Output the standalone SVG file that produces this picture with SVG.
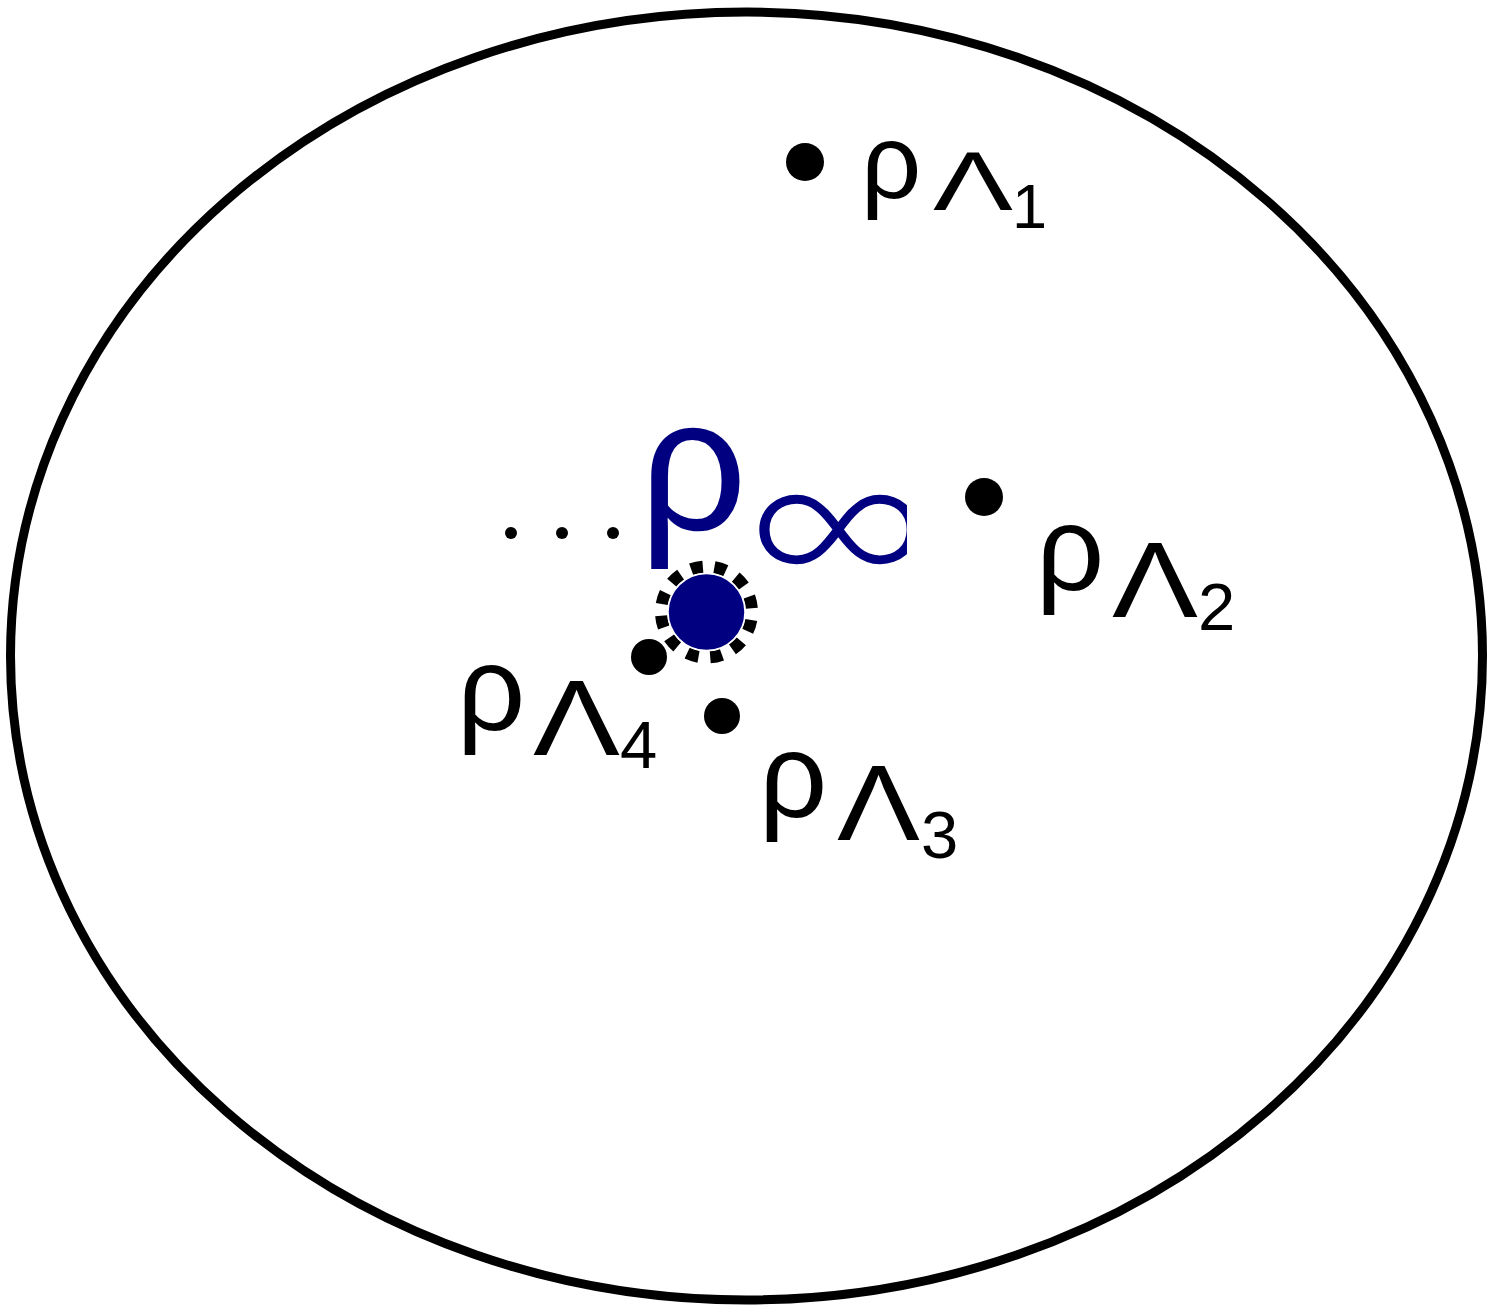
<svg xmlns="http://www.w3.org/2000/svg" width="1493" height="1307" viewBox="0 0 1493 1307">
<style>
text{font-family:"Liberation Sans",sans-serif;fill:#000}
.rho{font-size:120px}
.lam{font-size:108px}
.sub{font-size:67px}
.dot{fill:#000}
</style>
<defs><clipPath id="infclip"><rect x="600" y="400" width="307" height="200"/></clipPath></defs>
<rect width="1493" height="1307" fill="#fff"/>
<g id="boundary"><ellipse cx="746.5" cy="656" rx="736" ry="644" fill="none" stroke="#000" stroke-width="9"/></g>
<g id="rho-inf">
<circle cx="706.5" cy="612" r="45.5" fill="none" stroke="#000" stroke-width="12" stroke-dasharray="12 11.8" transform="rotate(-80 706.5 612)"/>
<circle cx="706.5" cy="612" r="38.5" fill="#000080" stroke="#fff" stroke-width="1.5"/>
<text x="639" y="530" font-size="190" style="fill:#000080">ρ</text>
<g clip-path="url(#infclip)"><text transform="translate(742 596) scale(1.15 1)" x="0" y="0" style="font-family:Lato,'Open Sans',sans-serif;font-weight:300;font-size:225px;fill:#000080">∞</text></g>
<circle cx="511" cy="533" r="6" class="dot"/><circle cx="562" cy="533" r="6" class="dot"/><circle cx="613" cy="533" r="6" class="dot"/>
</g>
<g id="rho1"><circle cx="805" cy="162" r="19" class="dot"/>
<text class="rho" x="861" y="198" style="font-size:106px">ρ</text><text class="lam" x="933" y="210" style="font-size:84px" textLength="80" lengthAdjust="spacingAndGlyphs">Λ</text><text class="sub" x="1012" y="228" style="font-size:63px">1</text></g>
<g id="rho2"><circle cx="984" cy="497" r="19" class="dot"/>
<text class="rho" x="1036" y="590">ρ</text><text class="lam" x="1112" y="617" textLength="86" lengthAdjust="spacingAndGlyphs">Λ</text><text class="sub" x="1198" y="630">2</text></g>
<g id="rho3"><circle cx="722" cy="716" r="18" class="dot"/>
<text class="rho" x="759" y="817">ρ</text><text class="lam" x="837" y="840" textLength="83" lengthAdjust="spacingAndGlyphs">Λ</text><text class="sub" x="921" y="858">3</text></g>
<g id="rho4"><circle cx="649" cy="657" r="18" class="dot"/>
<text class="rho" x="457" y="730">ρ</text><text class="lam" x="533" y="755" textLength="87" lengthAdjust="spacingAndGlyphs">Λ</text><text class="sub" x="620" y="768">4</text></g>
</svg>
